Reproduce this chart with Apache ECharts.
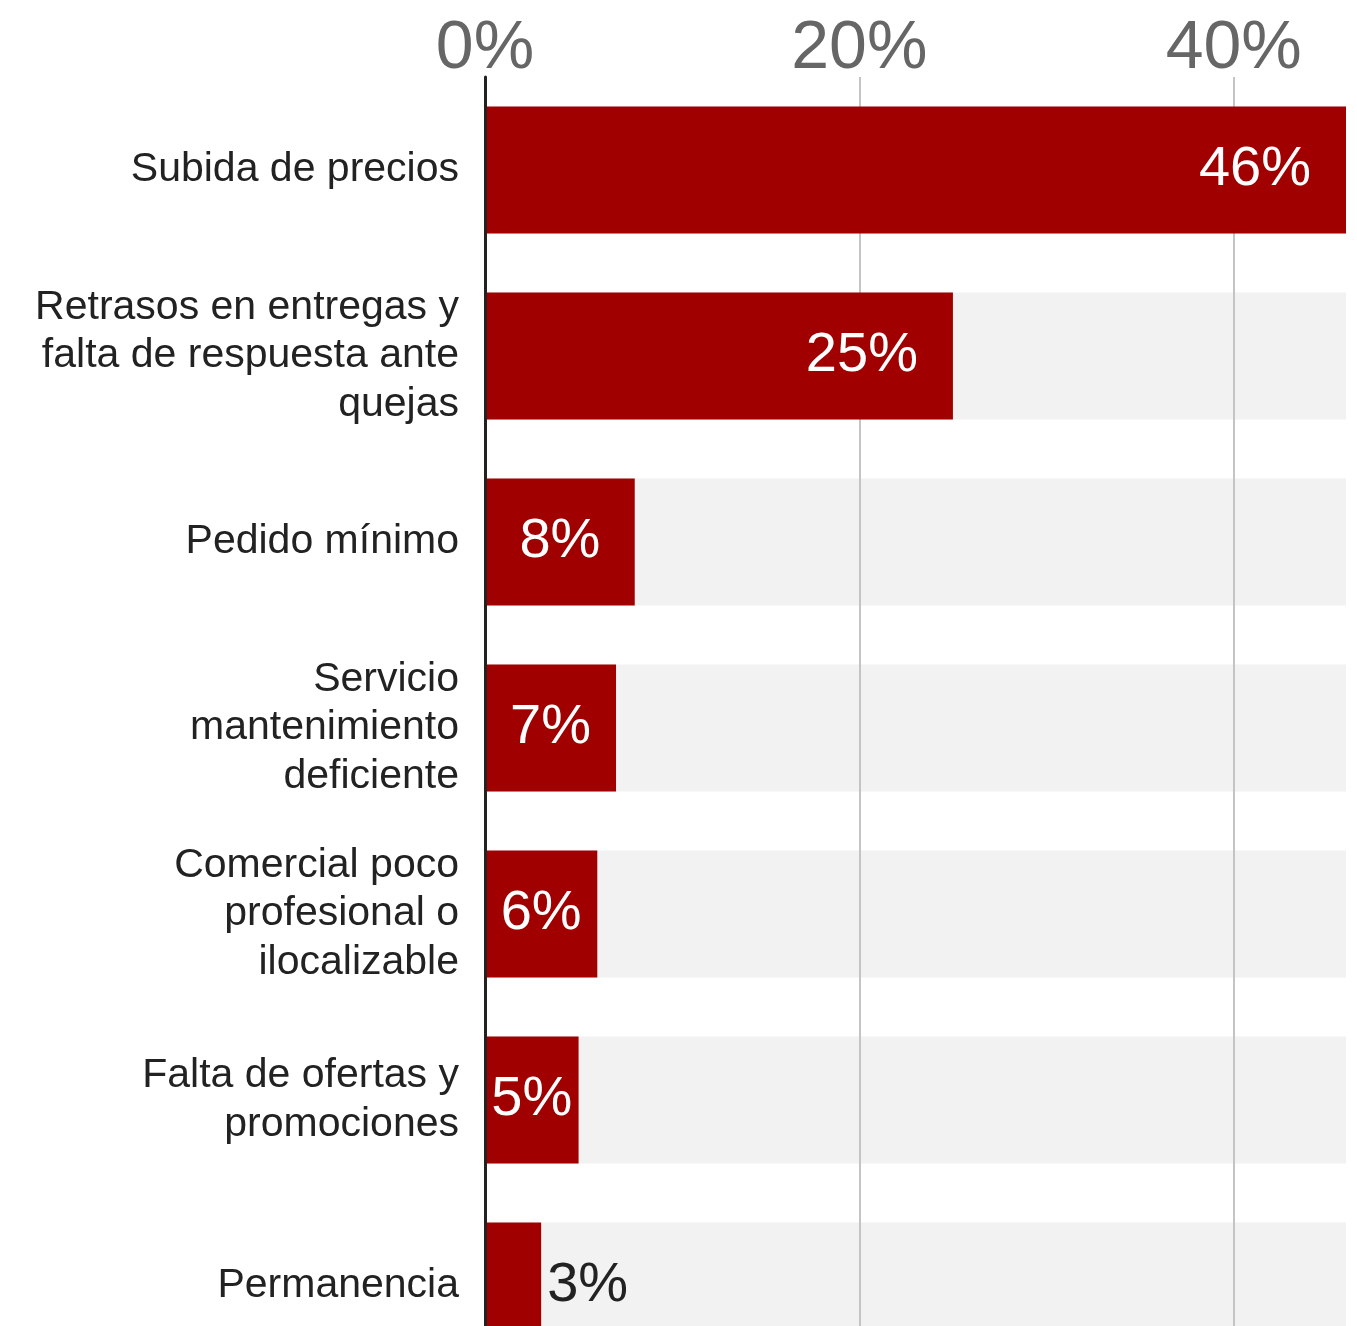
<!DOCTYPE html>
<html>
<head>
<meta charset="utf-8">
<title>Motivos de baja</title>
<script src="https://cdn.jsdelivr.net/npm/echarts@6/dist/echarts.min.js"></script>
<style>
  html, body { margin: 0; padding: 0; background: #fff; }
  #chartDiv { width: 1357px; height: 1326px; }
</style>
</head>
<body>
<div id="chartDiv"></div>
<script>
// datos
var categorias = [
    'Subida de precios',
    'Retrasos en entregas y\nfalta de respuesta ante\nquejas',
    'Pedido mínimo',
    'Servicio\nmantenimiento\ndeficiente',
    'Comercial poco\nprofesional o\nilocalizable',
    'Falta de ofertas y\npromociones',
    'Permanencia'
];
var valores = [46, 25, 8, 7, 6, 5, 3];
var ejeMax = 46;
var ejeIntervalo = 20;

var fuente = '"Liberation Sans", Arial, Helvetica, sans-serif';

// etiqueta dentro de la barra, centrada si es corta, fuera si no cabe
function etiqueta(v) {
    if (v >= 20) {
        return { show: true, position: 'insideRight', distance: 35, color: '#fff' };
    }
    if (v >= 4) {
        return { show: true, position: 'inside', color: '#fff' };
    }
    return { show: true, position: 'right', distance: 6, color: '#222' };
}

var myChart = echarts.init(document.getElementById('chartDiv'));
var option = {
    animation: false,
    textStyle: { fontFamily: fuente },
    grid: {
        left: 485,
        right: 11,
        top: 77,
        height: 1302,
        containLabel: false,
        outerBoundsMode: 'none'
    },
    xAxis: {
        type: 'value',
        position: 'top',
        min: 0,
        max: ejeMax,
        interval: ejeIntervalo,
        z: 1,
        axisLine: { show: false },
        axisTick: { show: false },
        axisLabel: {
            formatter: '{value}%',
            fontSize: 68,
            color: '#666',
            margin: -6,
            showMaxLabel: false,
            fontFamily: fuente
        },
        splitLine: {
            show: true,
            showMinLine: false,
            showMaxLine: false,
            lineStyle: { color: '#c4c4c4', width: 2 }
        }
    },
    yAxis: {
        type: 'category',
        inverse: true,
        data: categorias,
        z: 3,
        axisTick: { show: false },
        axisLine: { show: true, lineStyle: { color: '#222', width: 3 } },
        axisLabel: {
            fontSize: 41,
            lineHeight: 48.5,
            color: '#222',
            margin: 26,
            align: 'right',
            fontFamily: fuente
        }
    },
    series: [
        {
            // fondo gris de cada fila
            name: 'fondo',
            type: 'bar',
            silent: true,
            z: 0,
            barWidth: 127,
            barGap: '-100%',
            itemStyle: { color: '#f2f2f2' },
            data: categorias.map(function () { return ejeMax; })
        },
        {
            name: 'Porcentaje',
            type: 'bar',
            z: 2,
            barWidth: 127,
            barGap: '-100%',
            itemStyle: { color: '#a00000' },
            label: {
                fontSize: 56,
                fontFamily: fuente,
                formatter: '{c}%'
            },
            data: valores.map(function (v) {
                return { value: v, label: etiqueta(v) };
            })
        }
    ]
};

myChart.setOption(option);
window.onresize = myChart.resize;
</script>
</body>
</html>
